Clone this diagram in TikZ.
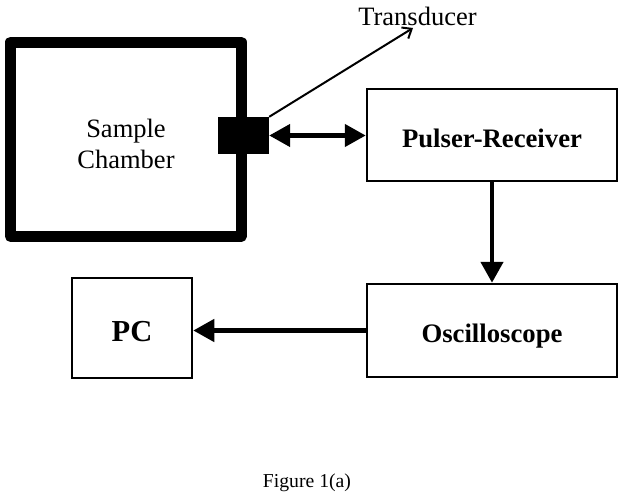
\documentclass[tikz,border=0pt]{standalone}
\usepackage{fontspec}
\setmainfont{Liberation Serif}
\usetikzlibrary{arrows.meta}

\begin{document}
\begin{tikzpicture}[x=1pt,y=-1pt,
  box/.style={draw, line width=2.5pt, minimum width=250pt, minimum height=92pt,
    font=\fontsize{26.7}{30}\selectfont\bfseries, text height=24pt, text depth=0pt},
  arr/.style={line width=4.5pt, -{Triangle[length=21pt,width=22pt]}}]
\useasboundingbox (0,0) rectangle (624,493);
\node[draw, line width=11pt, line join=round, minimum width=230.5pt, minimum height=194.5pt] (chamber) at (125.75,139.25) {};
\node[align=center, font=\fontsize{26.5}{31}\selectfont] (chambertext) at (126,143.5) {Sample\\Chamber};
\node[fill=black, minimum width=51pt, minimum height=37pt, inner sep=0pt] (transducer) at (243.5,135.5) {};
\node[box] (pulser) at (492,135) {Pulser-Receiver};
\node[box, minimum height=93pt] (scope) at (492,330.5) {Oscilloscope};
\node[box, minimum width=120pt, minimum height=100pt, font=\fontsize{30.5}{34}\selectfont\bfseries, text height=27pt] (pc) at (132,328) {PC};
\node[anchor=base, font=\fontsize{26.5}{30}\selectfont] (tdlabel) at (417.5,25) {Transducer};
\node[anchor=base, font=\fontsize{19.7}{23}\selectfont] (caption) at (307,487) {Figure 1(a)};
\coordinate (tdtip) at (413,28);
% connectors
\draw[line width=2pt, -{Straight Barb[length=8pt,width=13pt]}] (transducer.north east) -- (tdtip);
\draw[arr, {Triangle[length=21pt,width=22pt]}-{Triangle[length=21pt,width=22pt]}] (transducer.east) -- (transducer.east -| pulser.west);
\draw[arr] (pulser.south) -- (scope.north);
\draw[arr] (scope.west) -- (scope.west -| pc.east);
\end{tikzpicture}
\end{document}
